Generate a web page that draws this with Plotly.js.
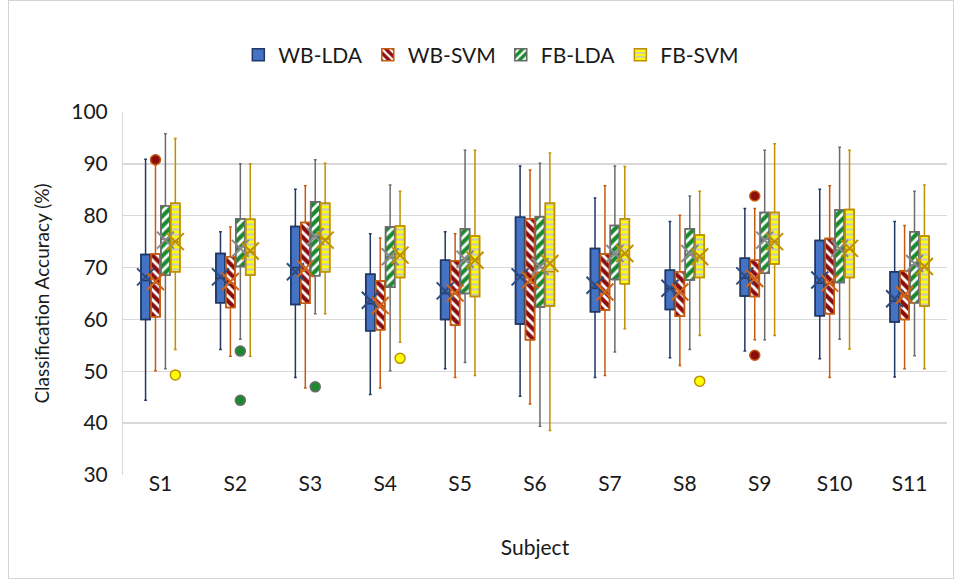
<!DOCTYPE html>
<html>
<head>
<meta charset="utf-8">
<script src="https://cdn.plot.ly/plotly-3.0.1.min.js"></script>
<style>
html,body{margin:0;padding:0;background:#fff;}
#chart{width:955px;height:581px;}
#frame{position:absolute;left:8px;top:0px;width:944px;height:577px;border:1px solid #d4d4d4;pointer-events:none;}
</style>
</head>
<body>
<div id="chart"></div>
<div id="frame"></div>
<script>
const subjects = ['S1','S2','S3','S4','S5','S6','S7','S8','S9','S10','S11'];
const seriesNames = ['WB-LDA','WB-SVM','FB-LDA','FB-SVM'];

// WB-LDA
const wbLdaUpper  = [90.9,76.9,85.1,76.5,76.9,89.6,83.4,78.9,81.4,85.1,78.9];
const wbLdaQ3     = [72.5,72.7,77.9,68.7,71.4,79.7,73.7,69.5,71.8,75.2,69.2];
const wbLdaMedian = [67.5,68.0,70.0,63.0,65.0,68.5,66.0,66.0,68.0,67.0,63.5];
const wbLdaQ1     = [60.0,63.2,62.9,57.8,60.0,59.1,61.5,61.9,64.5,60.7,59.5];
const wbLdaLower  = [44.4,54.2,48.8,45.5,50.5,45.2,48.8,52.6,53.9,52.4,48.9];
const wbLdaMean   = [68.2,68.2,69.2,63.7,65.5,68.2,66.6,66.0,68.4,67.6,64.0];
const wbLdaOutX = [];
const wbLdaOutY = [];

// WB-SVM
const wbSvmUpper  = [89.8,77.8,85.8,75.7,76.5,88.8,85.8,80.1,81.4,85.8,78.1];
const wbSvmQ3     = [72.6,72.1,78.7,67.4,71.3,79.4,72.6,69.2,71.4,75.6,69.4];
const wbSvmMedian = [67.0,67.0,69.5,62.5,65.0,67.0,65.5,65.0,68.0,67.0,64.5];
const wbSvmQ1     = [60.5,62.3,63.1,58.0,58.9,56.1,61.8,60.6,64.4,61.1,60.0];
const wbSvmLower  = [50.1,52.9,46.8,46.8,48.8,43.7,49.2,51.1,56.1,48.8,50.5];
const wbSvmMean   = [67.3,67.3,69.8,62.7,65.1,67.6,65.3,65.3,67.9,67.0,64.7];
const wbSvmOutX = ['S1','S9','S9'];
const wbSvmOutY = [90.8,83.8,53.1];

// FB-LDA
const fbLdaUpper  = [95.8,90.0,90.8,85.9,92.6,90.1,89.6,83.8,92.6,93.2,84.7];
const fbLdaQ3     = [81.9,79.4,82.7,77.8,77.5,79.8,78.1,77.5,80.6,81.1,76.9];
const fbLdaMedian = [75.5,74.0,76.0,72.0,71.5,70.0,72.5,72.5,75.5,73.5,70.5];
const fbLdaQ1     = [68.5,70.2,68.4,66.2,65.0,62.4,67.7,67.6,68.9,67.1,63.2];
const fbLdaLower  = [50.5,56.2,61.1,50.1,51.7,39.4,53.7,54.2,56.1,56.2,53.0];
const fbLdaMean   = [75.3,73.7,76.0,72.1,71.6,70.2,72.7,72.7,75.3,73.7,70.8];
const fbLdaOutX = ['S2','S2','S3'];
const fbLdaOutY = [53.9,44.4,47.0];

// FB-SVM
const fbSvmUpper  = [94.9,90.0,90.1,84.7,92.6,92.1,89.5,84.7,93.9,92.6,85.9];
const fbSvmQ3     = [82.4,79.3,82.4,78.0,76.1,82.4,79.4,76.3,80.6,81.2,76.1];
const fbSvmMedian = [75.0,73.0,75.5,72.5,71.5,69.2,72.5,72.0,75.0,73.5,70.0];
const fbSvmQ1     = [69.2,68.5,69.2,68.1,64.4,62.6,66.9,68.1,70.7,68.1,62.6];
const fbSvmLower  = [54.2,52.9,61.1,55.6,49.2,38.6,58.2,56.9,56.9,54.3,50.5];
const fbSvmMean   = [75.0,73.2,75.3,72.4,71.4,70.8,72.7,72.1,75.0,73.7,70.2];
const fbSvmOutX = ['S1','S4','S8'];
const fbSvmOutY = [49.3,52.5,48.1];

const series = [
  {name:'WB-LDA', upper:wbLdaUpper, q3:wbLdaQ3, median:wbLdaMedian, q1:wbLdaQ1, lower:wbLdaLower, mean:wbLdaMean, outX:wbLdaOutX, outY:wbLdaOutY,
   fill:'#4472c4', line:'#203864', meanColor:'#2e4a80',
   pattern:{shape:''}},
  {name:'WB-SVM', upper:wbSvmUpper, q3:wbSvmQ3, median:wbSvmMedian, q1:wbSvmQ1, lower:wbSvmLower, mean:wbSvmMean, outX:wbSvmOutX, outY:wbSvmOutY,
   fill:'#8b0d0d', line:'#c55a11', meanColor:'#d0651a',
   pattern:{shape:'\\', bgcolor:'#8b0d0d', fgcolor:'#ffffff', size:7, solidity:0.4}},
  {name:'FB-LDA', upper:fbLdaUpper, q3:fbLdaQ3, median:fbLdaMedian, q1:fbLdaQ1, lower:fbLdaLower, mean:fbLdaMean, outX:fbLdaOutX, outY:fbLdaOutY,
   fill:'#1b8a2e', line:'#6b6b6b', meanColor:'#8a8a8a',
   pattern:{shape:'/', bgcolor:'#1b8a2e', fgcolor:'#ffffff', size:7, solidity:0.4}},
  {name:'FB-SVM', upper:fbSvmUpper, q3:fbSvmQ3, median:fbSvmMedian, q1:fbSvmQ1, lower:fbSvmLower, mean:fbSvmMean, outX:fbSvmOutX, outY:fbSvmOutY,
   fill:'#ffff00', line:'#bf9000', meanColor:'#bf9000',
   pattern:{shape:'-', bgcolor:'#ffff00', fgcolor:'#c8c8c8', size:5, solidity:0.45}}
];

const data = [];
// Patterned box bodies (bars from q1 to q3)
series.forEach((s, i) => {
  data.push({
    type:'bar', name:s.name, x:subjects,
    base:s.q1, y:s.q3.map((v,k)=>v - s.q1[k]),
    offsetgroup:String(i),
    marker:{color:s.fill, line:{color:s.line, width:1.5}, pattern:s.pattern},
    hoverinfo:'skip', showlegend:true
  });
});
// Box outlines, medians, whiskers
series.forEach((s, i) => {
  data.push({
    type:'box', name:s.name, x:subjects,
    q1:s.q1, median:s.median, q3:s.q3, lowerfence:s.lower, upperfence:s.upper,
    offsetgroup:String(i),
    fillcolor:'rgba(0,0,0,0)', line:{color:s.line, width:1.5},
    whiskerwidth:0.3, boxpoints:false, showlegend:false, hoverinfo:'skip'
  });
});
// Means (x markers) and outliers
series.forEach((s, i) => {
  data.push({
    type:'scatter', mode:'markers', x:subjects, y:s.mean,
    offsetgroup:String(i), showlegend:false, hoverinfo:'skip',
    marker:{symbol:'x-thin-open', size:17, color:s.meanColor, line:{color:s.meanColor, width:2}}
  });
  data.push({
    type:'scatter', mode:'markers', x:s.outX, y:s.outY,
    offsetgroup:String(i), showlegend:false, hoverinfo:'skip',
    marker:{symbol:'circle', size:10, color:s.fill, line:{color:s.line, width:1.5}}
  });
});

const layout = {
  width:955, height:581,
  margin:{l:123, r:8, t:112, b:106},
  paper_bgcolor:'#ffffff', plot_bgcolor:'#ffffff',
  font:{family:'Lato, "Open Sans", sans-serif', size:21, color:'#1a1a1a'},
  barmode:'group', bargap:0.47, bargroupgap:0.08,
  boxmode:'group', boxgap:0.47, boxgroupgap:0.08,
  scattermode:'group', scattergap:0.47,
  showlegend:true,
  legend:{orientation:'h', x:0.447, xanchor:'center', y:0.905, yref:'container', yanchor:'middle',
          font:{size:21, color:'#1a1a1a'}, traceorder:'normal'},
  xaxis:{type:'category', categoryorder:'array', categoryarray:subjects,
         showgrid:false, zeroline:false, showline:false, ticks:'', ticklabelstandoff:-6,
         tickfont:{size:21},
         title:{text:'Subject', font:{size:21}, standoff:46}},
  yaxis:{range:[30,100], dtick:10, tick0:30, showgrid:true, gridcolor:'#d9d9d9', gridwidth:1.3,
         zeroline:false, showline:true, linecolor:'#d9d9d9', linewidth:1, ticks:'', ticklabelstandoff:10,
         tickfont:{size:21},
         title:{text:'Classification Accuracy (%)', font:{size:19}, standoff:16}}
};

Plotly.newPlot('chart', data, layout, {displayModeBar:false, staticPlot:true});
</script>
</body>
</html>
